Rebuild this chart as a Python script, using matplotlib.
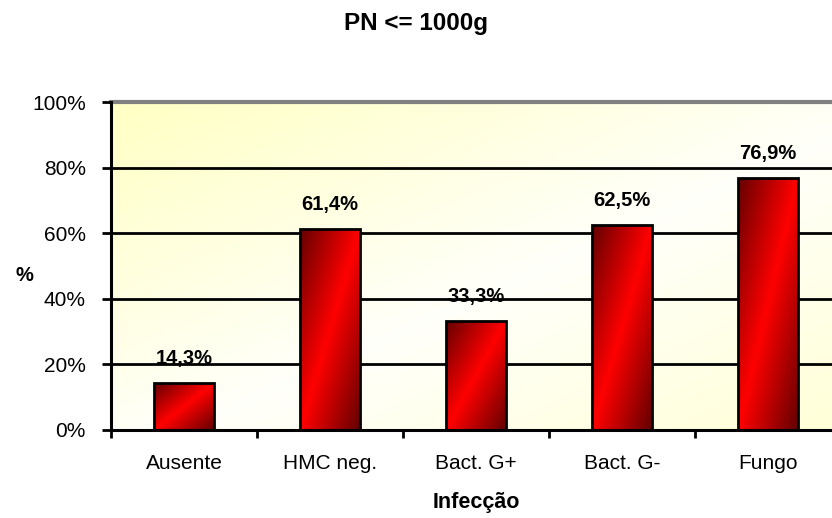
import numpy as np
import matplotlib.pyplot as plt
from matplotlib.colors import LinearSegmentedColormap
from matplotlib.patches import Rectangle
from matplotlib.ticker import FuncFormatter

plt.rcParams["font.family"] = ["Liberation Sans", "DejaVu Sans"]

# Infection category and share of cases (%)
categories = ["Ausente", "HMC neg.", "Bact. G+", "Bact. G-", "Fungo"]
values = [14.3, 61.4, 33.3, 62.5, 76.9]
yticks = [0, 20, 40, 60, 80, 100]

bar_width = 0.41

bar_cmap = LinearSegmentedColormap.from_list(
    "bar", [(0, "#640000"), (0.5, "#ff0000"), (1, "#640000")]
)
bg_cmap = LinearSegmentedColormap.from_list(
    "bg", [(0, "#ffffc4"), (0.55, "#fffffa"), (1, "#ffffd8")]
)

# diagonal ramp: 0 at top-left corner, 1 at bottom-right corner
u, v = np.meshgrid(np.linspace(0, 1, 120), np.linspace(0, 1, 120))
diag = (u + v) / 2

fig = plt.figure(figsize=(8.32, 5.18), dpi=100)
ax = fig.add_axes([0.1334, 0.170, 0.877, 0.633])

ax.imshow(diag, cmap=bg_cmap, vmin=0, vmax=1, extent=(0, 1, 0, 1),
          transform=ax.transAxes, aspect="auto", zorder=0)

for y in yticks[1:-1]:
    ax.axhline(y, color="black", lw=2, zorder=1)
ax.axhline(100, color="#808080", lw=3, zorder=1, clip_on=False)

x = np.arange(len(categories))
for xi, val in zip(x, values):
    x0 = xi - bar_width / 2
    rect = Rectangle((x0, 0), bar_width, val, facecolor="none",
                     edgecolor="black", lw=2, zorder=3)
    ax.add_patch(rect)
    img = ax.imshow(diag, cmap=bar_cmap, vmin=0, vmax=1,
                    extent=(x0, x0 + bar_width, 0, val),
                    aspect="auto", zorder=2)
    img.set_clip_path(rect)
    ax.annotate(f"{val:.1f}".replace(".", ",") + "%", (xi, val),
                xytext=(0, 13.5), textcoords="offset points",
                ha="center", va="baseline", fontsize=14.5, fontweight="bold",
                zorder=4)

ax.set_xlim(-0.5, len(categories) - 0.5)
ax.set_ylim(0, 100)

ax.set_xticks(x)
ax.set_xticklabels(categories, fontsize=15)
ax.set_xticks(np.arange(len(categories) + 1) - 0.5, minor=True)
ax.tick_params(axis="x", which="major", length=0, pad=17.5)
ax.tick_params(axis="x", which="minor", length=6, width=2, direction="out")

ax.set_yticks(yticks)
ax.yaxis.set_major_formatter(FuncFormatter(lambda y, _: f"{y:.0f}%"))
ax.tick_params(axis="y", length=6.5, width=2, direction="out", pad=11.5,
               labelsize=15)

for side in ["top", "right"]:
    ax.spines[side].set_visible(False)
for side in ["left", "bottom"]:
    ax.spines[side].set_linewidth(2.2)
    ax.spines[side].set_zorder(5)

ax.set_xlabel("Infecção", fontsize=15.5, fontweight="bold", va="center")
ax.xaxis.set_label_coords(0.5, -0.22)
ax.set_ylabel("%", fontsize=14.5, fontweight="bold", rotation=0,
              ha="center", va="center")
ax.yaxis.set_label_coords(-0.118, 0.47)

fig.text(0.5, 1 - 30 / 518, "PN <= 1000g", ha="center", va="baseline",
         fontsize=17.5, fontweight="bold")

fig.savefig("out.png", dpi=100)
